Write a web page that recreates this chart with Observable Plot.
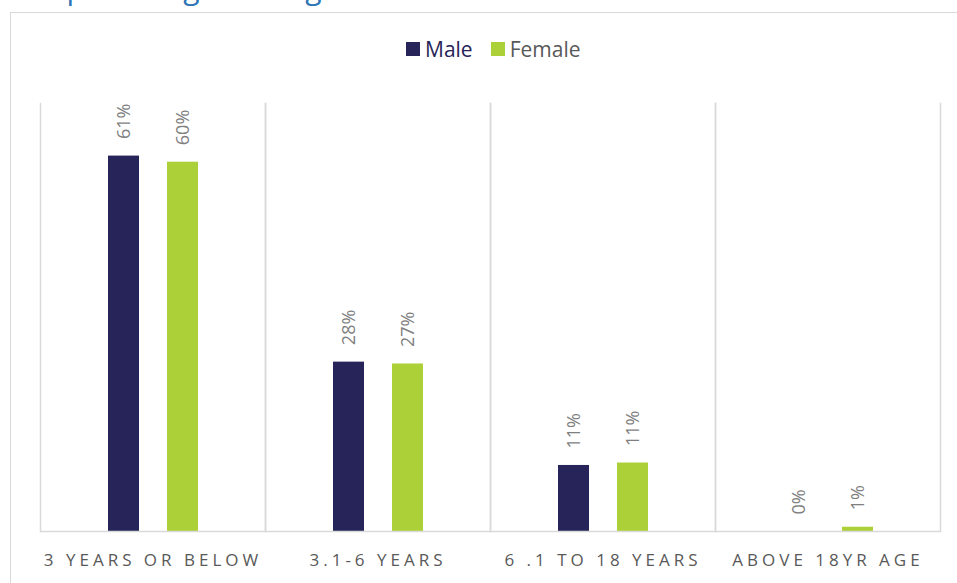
<!DOCTYPE html>
<html>
<head>
<meta charset="utf-8">
<script src="https://cdn.jsdelivr.net/npm/d3@7"></script>
<script src="https://cdn.jsdelivr.net/npm/@observablehq/plot@0.6"></script>
<style>
  html, body { margin: 0; padding: 0; background: #fff; overflow: hidden; width: 957px; height: 583px; }
  #title { position: absolute; left: -4px; top: -33px; font: 30px "Open Sans", sans-serif; color: #2e75b6; white-space: nowrap; }
  #frame { position: absolute; left: 10px; top: 12px; width: 980px; height: 640px; border: 1.5px solid #d9d9d9; box-sizing: border-box; }
  #legend { position: absolute; left: 406px; top: 35px; font: 21px "Open Sans", sans-serif; display: flex; align-items: center; white-space: nowrap; }
  #legend .sw { display: inline-block; width: 14px; height: 14px; margin-right: 5px; }
  #legend .item { display: flex; align-items: center; margin-right: 18px; }
  #chart { position: absolute; left: 0; top: 0; }
  #chart g[aria-label="fx-axis tick label"] text { letter-spacing: 4px; }
</style>
</head>
<body>
<div id="title">Group-wise Age at Diagnosis</div>
<div id="frame"></div>
<div id="legend"></div>
<div id="chart"></div>
<script>
const categories = ["3 YEARS OR BELOW", "3.1-6 YEARS", "6 .1 TO 18 YEARS", "ABOVE 18YR AGE"];
const genders = ["Male", "Female"];
const maleValues = [61.4, 27.7, 10.8, 0];
const femaleValues = [60.4, 27.4, 11.2, 0.7];
const colors = ["#262458", "#acd037"];
const legendTextColors = ["#262458", "#595959"];

const data = [];
categories.forEach((c, i) => {
  data.push({category: c, gender: "Male", value: maleValues[i]});
  data.push({category: c, gender: "Female", value: femaleValues[i]});
});

const legend = document.getElementById("legend");
genders.forEach((g, i) => {
  const item = document.createElement("span");
  item.className = "item";
  const sw = document.createElement("span");
  sw.className = "sw";
  sw.style.background = colors[i];
  const t = document.createElement("span");
  t.textContent = g;
  t.style.color = legendTextColors[i];
  item.appendChild(sw);
  item.appendChild(t);
  legend.appendChild(item);
});

const chart = Plot.plot({
  width: 957,
  height: 583,
  marginTop: 103,
  marginBottom: 52,
  marginLeft: 40,
  marginRight: 17,
  style: {background: "transparent", fontFamily: "'Open Sans', sans-serif"},
  fx: {domain: categories, padding: 0, label: null},
  x: {domain: genders, paddingInner: 0.475, paddingOuter: 1.144, axis: null},
  y: {domain: [0, 70], axis: null},
  color: {domain: genders, range: colors},
  marks: [
    Plot.frame({anchor: "left", stroke: "#d9d9d9", strokeWidth: 1.5}),
    Plot.frame({anchor: "right", stroke: "#d9d9d9", strokeWidth: 1.5}),
    Plot.barY(data, {fx: "category", x: "gender", y: "value", fill: "gender"}),
    Plot.ruleY([0], {stroke: "#d9d9d9", strokeWidth: 1.5}),
    Plot.text(data, {fx: "category", x: "gender", y: "value", text: d => Math.round(d.value) + "%",
      rotate: -90, textAnchor: "start", dy: -17, fontSize: 18, fill: "#7f7f7f"}),
    Plot.axisFx({anchor: "bottom", tickSize: 0, tickPadding: 22, fontSize: 17, fill: "#595959", label: null})
  ]
});
document.getElementById("chart").appendChild(chart);
</script>
</body>
</html>
